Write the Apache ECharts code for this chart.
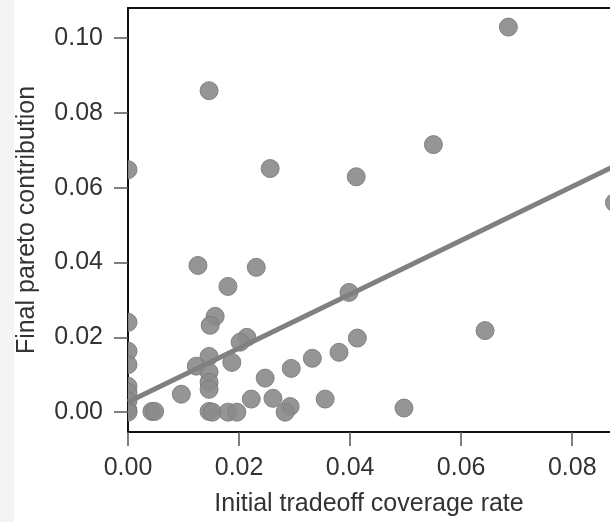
<!DOCTYPE html>
<html>
<head>
<meta charset="utf-8">
<script src="https://cdn.jsdelivr.net/npm/echarts@6/dist/echarts.min.js"></script>
<style>
  html, body { margin: 0; padding: 0; background: #fff; }
  #strip { position: absolute; left: 0; top: 0; width: 14px; height: 522px; background: #f4f4f4; }
  #chart { position: absolute; left: 0; top: 0; width: 610px; height: 522px; }
</style>
</head>
<body>
<div id="strip"></div>
<div id="chart"></div>
<script>
// Scatter values
const coverage = [
    0.0685, 0.0146, 0.0000, 0.0256, 0.0550, 0.0411, 0.0876, 0.0126, 0.0231, 0.0180,
    0.0398, 0.0157, 0.0148, 0.0000, 0.0214, 0.0202, 0.0413, 0.0643, 0.0000, 0.0380,
    0.0146, 0.0332, 0.0187, 0.0000, 0.0123, 0.0294, 0.0146, 0.0247, 0.0146, 0.0000,
    0.0146, 0.0000, 0.0096, 0.0222, 0.0261, 0.0355, 0.0000, 0.0292, 0.0497, 0.0000,
    0.0000, 0.0043, 0.0048, 0.0146, 0.0152, 0.0180, 0.0196, 0.0283
];
const contribution = [
    0.1029, 0.0859, 0.0648, 0.0651, 0.0715, 0.0629, 0.0560, 0.0392, 0.0387, 0.0336,
    0.0320, 0.0256, 0.0232, 0.0240, 0.0200, 0.0187, 0.0198, 0.0218, 0.0163, 0.0160,
    0.0149, 0.0144, 0.0133, 0.0127, 0.0123, 0.0117, 0.0107, 0.0091, 0.0080, 0.0069,
    0.0061, 0.0053, 0.0048, 0.0035, 0.0037, 0.0035, 0.0030, 0.0015, 0.0011, 0.0005,
    0.0000, 0.0002, 0.0002, 0.0002, 0.0000, 0.0000, 0.0000, 0.0000
];

// Fitted regression line end points
const fitX = [0.0, 0.09];
const fitY = [0.0027, 0.0675];

const xTicks = [0.00, 0.02, 0.04, 0.06, 0.08];
const yTicks = [0.00, 0.02, 0.04, 0.06, 0.08, 0.10];

const points = coverage.map((x, i) => [x, contribution[i]]);
const fitLine = fitX.map((x, i) => [x, fitY[i]]);

const font = 'Liberation Sans, Arial, sans-serif';
const myChart = echarts.init(document.getElementById('chart'));

const option = {
    animation: false,
    grid: { left: 128, right: 0, top: 8, bottom: 89, containLabel: false },
    xAxis: [
        {
            type: 'value',
            position: 'bottom',
            min: 0,
            max: 0.0868,
            name: 'Initial tradeoff coverage rate',
            nameLocation: 'middle',
            nameGap: 60,
            nameTextStyle: { fontFamily: font, fontSize: 25, color: '#333' },
            axisLine: { show: true, onZero: false, lineStyle: { color: '#111', width: 2 } },
            axisTick: { show: true, length: 14, customValues: xTicks, lineStyle: { color: '#555', width: 1.5 } },
            axisLabel: {
                customValues: xTicks,
                formatter: v => v.toFixed(2),
                fontFamily: font, fontSize: 25, color: '#333', margin: 24
            },
            splitLine: { show: false }
        },
        {
            type: 'value',
            position: 'top',
            min: 0,
            max: 0.0868,
            axisLine: { show: true, onZero: false, lineStyle: { color: '#111', width: 2 } },
            axisTick: { show: false },
            axisLabel: { show: false },
            splitLine: { show: false }
        }
    ],
    yAxis: {
        type: 'value',
        min: -0.0053,
        max: 0.108,
        name: 'Final pareto contribution',
        nameLocation: 'middle',
        nameGap: 88,
        nameTextStyle: { fontFamily: font, fontSize: 25, color: '#333' },
        axisLine: { show: true, onZero: false, lineStyle: { color: '#111', width: 2 } },
        axisTick: { show: true, length: 14, customValues: yTicks, lineStyle: { color: '#555', width: 1.5 } },
        axisLabel: {
            customValues: yTicks,
            formatter: v => v.toFixed(2),
            fontFamily: font, fontSize: 25, color: '#333', margin: 25
        },
        splitLine: { show: false }
    },
    series: [
        {
            type: 'custom',
            clip: true,
            z: 2,
            data: points,
            renderItem: (params, api) => {
                const p = api.coord([api.value(0), api.value(1)]);
                return {
                    type: 'circle',
                    shape: { cx: p[0], cy: p[1], r: 9 },
                    style: { fill: '#8c8c8c', stroke: '#7c7c7c', lineWidth: 1, opacity: 0.92 }
                };
            }
        },
        {
            type: 'line',
            z: 3,
            data: fitLine,
            showSymbol: false,
            clip: true,
            lineStyle: { color: '#808080', width: 5 }
        }
    ]
};

myChart.setOption(option);
</script>
</body>
</html>
